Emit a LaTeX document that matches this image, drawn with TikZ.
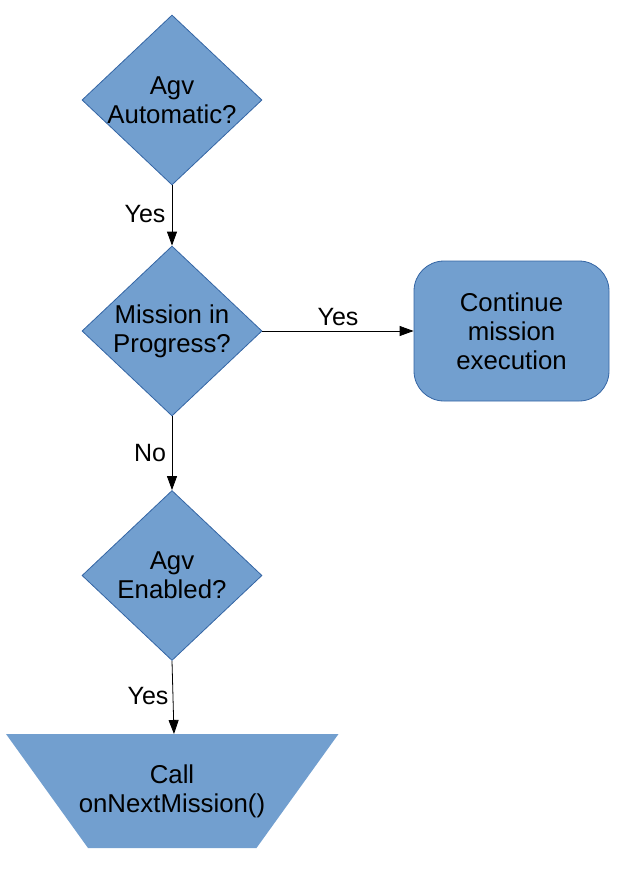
\documentclass[tikz,border=0pt]{standalone}
\usepackage{fontspec}
\setmainfont{Liberation Sans}
\usetikzlibrary{shapes.geometric,arrows.meta}
\definecolor{boxfill}{HTML}{729FCF}
\definecolor{boxline}{HTML}{3465A4}
\begin{document}
\begin{tikzpicture}[x=1pt,y=-1pt,
  dia/.style={diamond,fill=boxfill,draw=boxline,line width=0.8pt,minimum width=180pt,minimum height=170pt,inner sep=0pt},
  txt/.style={align=center,font=\fontsize{25.8}{29}\selectfont,inner sep=0pt},
  lbl/.style={font=\fontsize{25}{28}\selectfont,inner sep=0pt},
  rbox/.style={rectangle,rounded corners=30pt,fill=boxfill,draw=boxline,line width=0.8pt,minimum width=195pt,minimum height=140pt},
  conn/.style={line width=0.8pt,-{Triangle[length=14pt,width=10pt]}}]
\useasboundingbox (0,0) rectangle (633,869);
\node[dia] (d1) at (172,100) {};
\node[txt] (t1) at (d1.center) {Agv\\Automatic?};
\node[dia] (d2) at (172,331) {};
\node[txt] (t2) at (d2.center) {Mission in\\Progress?};
\node[dia] (d3) at (172,575.5) {};
\node[txt] (t3) at (d3.center) {Agv\\Enabled?};
\node[rbox] (r) at (511.5,331) {};
\node[txt] (tr) at (r.center) {Continue\\mission\\execution};
\coordinate (p1) at (6,734);
\coordinate (p2) at (338.5,734);
\coordinate (p3) at (256.5,848);
\coordinate (p4) at (88,848);
\fill[boxfill] (p1) -- (p2) -- (p3) -- (p4) -- cycle;
\node[txt] (call) at (172,791) {Call\\onNextMission()};
\coordinate (calltop) at (174,734);
\draw[conn] (d1.south) -- (d2.north);
\draw[conn] (d2.south) -- (d3.north);
\draw[conn] (d2.east) -- (r.west);
\draw[conn] (d3.south) -- (calltop);
\node[lbl] (y1) at (145,214) {Yes};
\node[lbl] (n1) at (150,453) {No};
\node[lbl] (y2) at (338,317) {Yes};
\node[lbl] (y3) at (148,696) {Yes};
\end{tikzpicture}
\end{document}
